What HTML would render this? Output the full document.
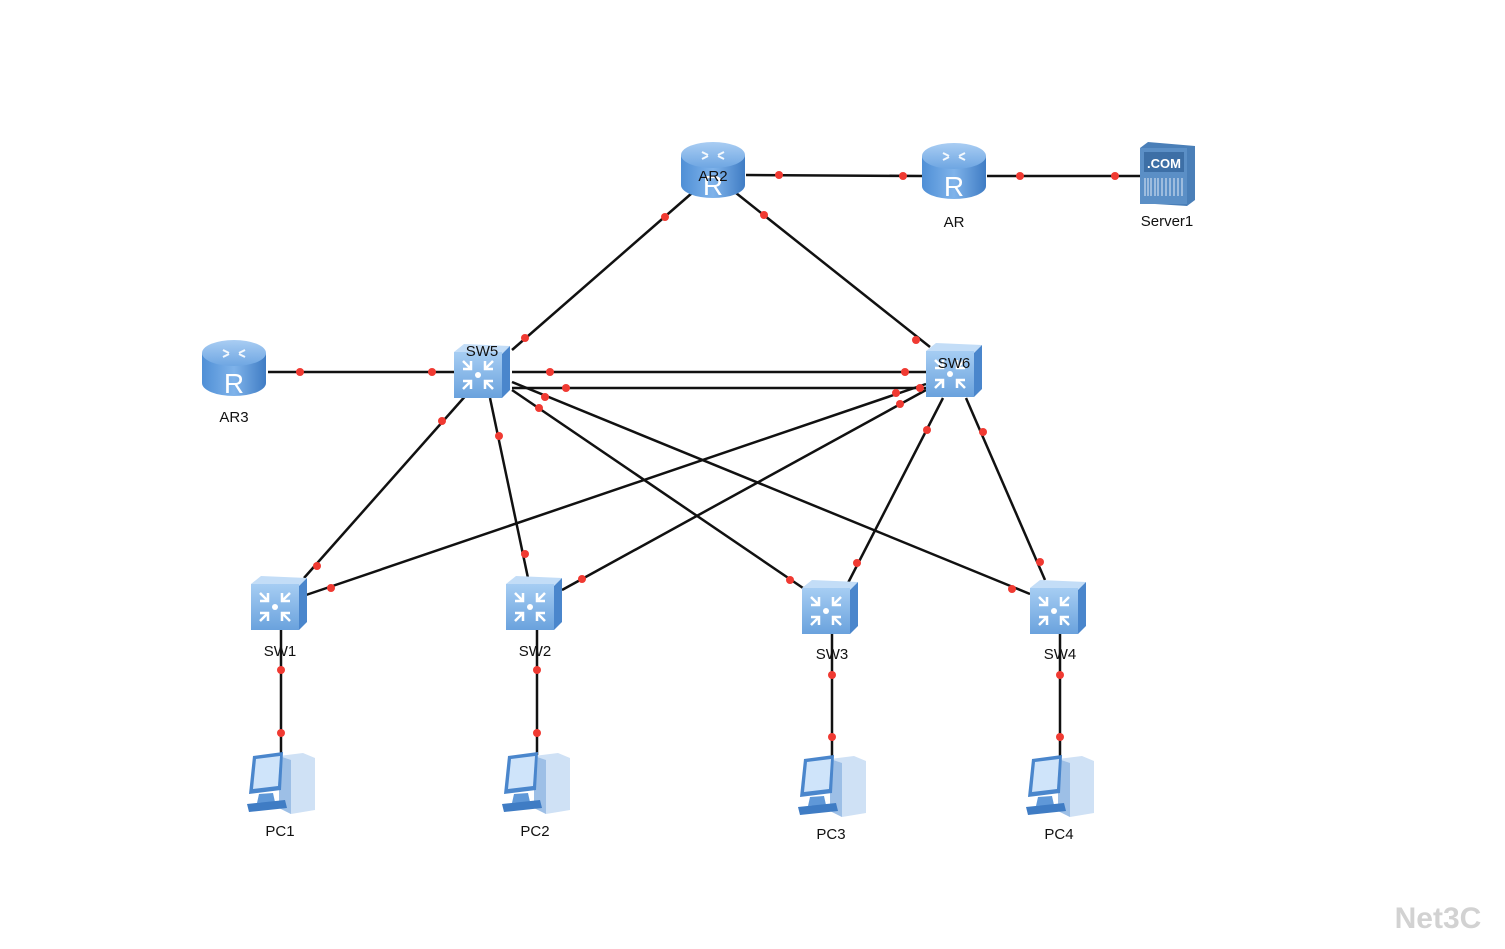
<!DOCTYPE html>
<html><head><meta charset="utf-8"><style>
html,body{margin:0;padding:0;background:#fff;}
svg{display:block;font-family:"Liberation Sans",Arial,sans-serif;}
</style></head><body>
<svg width="1505" height="949" viewBox="0 0 1505 949" xmlns="http://www.w3.org/2000/svg">
<defs>
<linearGradient id="rb" x1="0" x2="1" y1="0" y2="0"><stop offset="0" stop-color="#4f8fd6"/><stop offset="0.5" stop-color="#7fb3ea"/><stop offset="1" stop-color="#3f7cc4"/></linearGradient>
<linearGradient id="rt" x1="0" x2="0" y1="0" y2="1"><stop offset="0" stop-color="#a9cdf3"/><stop offset="1" stop-color="#6ea6e2"/></linearGradient>
<linearGradient id="sf" x1="0" x2="0" y1="0" y2="1"><stop offset="0" stop-color="#a6cdf3"/><stop offset="1" stop-color="#6aa2dd"/></linearGradient>
<symbol id="router" viewBox="0 0 66 60">
<path d="M1 15 V45 A32 13 0 0 0 65 45 V15 Z" fill="url(#rb)"/>
<ellipse cx="33" cy="15" rx="32" ry="13" fill="url(#rt)"/>
<g stroke="#fff" stroke-width="2" fill="none" opacity="0.9"><path d="M22 12 l6 3 M44 12 l-6 3 M22 19 l6 -3 M44 19 l-6 -3"/></g>
<text x="33" y="55" font-size="28" fill="#fff" text-anchor="middle" font-family="Liberation Sans,sans-serif">R</text>
</symbol>
<symbol id="switch" viewBox="0 0 60 58">
<path d="M2 10 L12 2 L58 4 L50 12 Z" fill="#c3ddf7"/>
<path d="M50 12 L58 4 L58 48 L50 56 Z" fill="#4a86cc"/>
<rect x="2" y="10" width="48" height="46" fill="url(#sf)"/>
<g stroke="#fff" stroke-width="2.5" fill="none"><path d="M11 19 l8 8 M19 19 v8 h-8 M41 19 l-8 8 M33 19 v8 h8 M11 47 l8 -8 M19 47 v-8 h-8 M41 47 l-8 -8 M33 47 v-8 h8"/></g>
<circle cx="26" cy="33" r="3" fill="#fff"/>
</symbol>
<symbol id="pc" viewBox="0 0 70 66">
<path d="M34 6 L58 3 L70 8 L70 60 L46 64 L34 58 Z" fill="#cfe1f5"/>
<path d="M34 6 L46 10 L46 64 L34 58 Z" fill="#9dbfe6"/>
<path d="M8 6 L38 2 L36 40 L4 44 Z" fill="#4a86cc"/>
<path d="M11 9 L35 6 L33 36 L8 39 Z" fill="#cfe4fa"/>
<path d="M14 44 L28 43 L30 52 L12 53 Z" fill="#5f98d8"/>
<path d="M2 54 L40 50 L42 58 L4 62 Z" fill="#3f7cc4"/>
</symbol>
</defs>
<g stroke="#111" stroke-width="2.5">
<line x1="746" y1="175" x2="922" y2="176"/>
<line x1="987" y1="176" x2="1140" y2="176"/>
<line x1="692" y1="193" x2="512" y2="350"/>
<line x1="736" y1="193" x2="930" y2="347"/>
<line x1="268" y1="372" x2="455" y2="372"/>
<line x1="512" y1="372" x2="926" y2="372"/>
<line x1="512" y1="388" x2="926" y2="388"/>
<line x1="468" y1="393" x2="304" y2="578"/>
<line x1="490" y1="398" x2="528" y2="578"/>
<line x1="512" y1="390" x2="803" y2="588"/>
<line x1="512" y1="382" x2="1030" y2="594"/>
<line x1="926" y1="384" x2="306" y2="595"/>
<line x1="926" y1="390" x2="562" y2="590"/>
<line x1="943" y1="398" x2="848" y2="583"/>
<line x1="966" y1="398" x2="1045" y2="580"/>
<line x1="281" y1="630" x2="281" y2="755"/>
<line x1="537" y1="630" x2="537" y2="755"/>
<line x1="832" y1="634" x2="832" y2="758"/>
<line x1="1060" y1="634" x2="1060" y2="758"/>
</g>
<g fill="#f03a32">
<circle cx="779" cy="175" r="4"/><circle cx="903" cy="176" r="4"/>
<circle cx="1020" cy="176" r="4"/><circle cx="1115" cy="176" r="4"/>
<circle cx="665" cy="217" r="4"/><circle cx="525" cy="338" r="4"/>
<circle cx="764" cy="215" r="4"/><circle cx="916" cy="340" r="4"/>
<circle cx="300" cy="372" r="4"/><circle cx="432" cy="372" r="4"/>
<circle cx="550" cy="372" r="4"/><circle cx="905" cy="372" r="4"/>
<circle cx="566" cy="388" r="4"/><circle cx="920" cy="388" r="4"/>
<circle cx="442" cy="421" r="4"/><circle cx="317" cy="566" r="4"/>
<circle cx="499" cy="436" r="4"/><circle cx="525" cy="554" r="4"/>
<circle cx="539" cy="408" r="4"/><circle cx="790" cy="580" r="4"/>
<circle cx="545" cy="397" r="4"/><circle cx="1012" cy="589" r="4"/>
<circle cx="896" cy="393" r="4"/><circle cx="331" cy="588" r="4"/>
<circle cx="900" cy="404" r="4"/><circle cx="582" cy="579" r="4"/>
<circle cx="927" cy="430" r="4"/><circle cx="857" cy="563" r="4"/>
<circle cx="983" cy="432" r="4"/><circle cx="1040" cy="562" r="4"/>
<circle cx="281" cy="670" r="4"/><circle cx="281" cy="733" r="4"/>
<circle cx="537" cy="670" r="4"/><circle cx="537" cy="733" r="4"/>
<circle cx="832" cy="675" r="4"/><circle cx="832" cy="737" r="4"/>
<circle cx="1060" cy="675" r="4"/><circle cx="1060" cy="737" r="4"/>
</g>
<use href="#router" x="680" y="140" width="66" height="60"/>
<use href="#router" x="921" y="141" width="66" height="60"/>
<use href="#router" x="201" y="338" width="66" height="60"/>
<g>
<path d="M1140 148 L1148 142 L1195 146 L1195 200 L1187 206 L1140 203 Z" fill="#4a7fb8"/>
<rect x="1140" y="148" width="47" height="56" fill="#5b8fc6"/>
<rect x="1144" y="152" width="40" height="20" fill="#3d6fa6"/>
<text x="1164" y="168" font-size="13" font-weight="bold" fill="#fff" text-anchor="middle">.COM</text>
<g stroke="#dfe9f5" stroke-width="1"><path d="M1145 178 v18 M1148 178 v18 M1151 178 v18 M1155 178 v18 M1158 178 v18 M1162 178 v18 M1166 178 v18 M1170 178 v18 M1174 178 v18 M1178 178 v18 M1182 178 v18"/></g>
</g>
<use href="#switch" x="452" y="342" width="60" height="58"/>
<use href="#switch" x="924" y="341" width="60" height="58"/>
<use href="#switch" x="249" y="574" width="60" height="58"/>
<use href="#switch" x="504" y="574" width="60" height="58"/>
<use href="#switch" x="800" y="578" width="60" height="58"/>
<use href="#switch" x="1028" y="578" width="60" height="58"/>
<use href="#pc" x="245" y="750" width="70" height="66"/>
<use href="#pc" x="500" y="750" width="70" height="66"/>
<use href="#pc" x="796" y="753" width="70" height="66"/>
<use href="#pc" x="1024" y="753" width="70" height="66"/>
<g font-size="15" fill="#111" text-anchor="middle">
<text x="713" y="181">AR2</text>
<text x="954" y="227">AR</text>
<text x="1167" y="226">Server1</text>
<text x="234" y="422">AR3</text>
<text x="482" y="356">SW5</text>
<text x="954" y="368">SW6</text>
<text x="280" y="656">SW1</text>
<text x="535" y="656">SW2</text>
<text x="832" y="659">SW3</text>
<text x="1060" y="659">SW4</text>
<text x="280" y="836">PC1</text>
<text x="535" y="836">PC2</text>
<text x="831" y="839">PC3</text>
<text x="1059" y="839">PC4</text>
</g>
<text x="1438" y="928" font-size="30" font-weight="bold" fill="#d2d2d2" text-anchor="middle">Net3C</text>
</svg>
</body></html>
